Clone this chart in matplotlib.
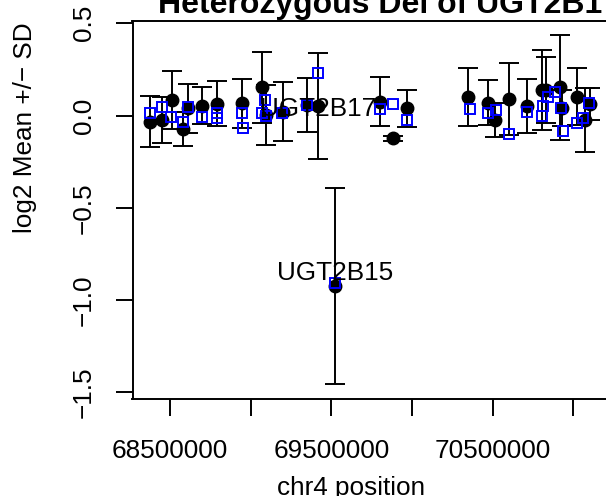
import matplotlib
matplotlib.use("Agg")
import matplotlib.pyplot as plt
import numpy as np

plt.rcParams['font.family'] = ['Liberation Sans', 'DejaVu Sans']

# probe means (black) with SD
pos = [68376000, 68452300, 68510500, 68578700, 68613400, 68696500, 68793200,
       68944400, 69068400, 69095000, 69202200, 69347300, 69419200, 69522700,
       69801600, 69884000, 69967100, 70348900, 70472800, 70514400, 70603000,
       70710800, 70803800, 70830400, 70917200, 70927700, 71020700, 71072100,
       71103100]
mean = [-0.033, -0.024, 0.084, -0.073, 0.039, 0.052, 0.063,
        0.066, 0.153, 0.003, 0.021, 0.057, 0.052, -0.924,
        0.075, -0.123, 0.039, 0.099, 0.070, -0.024, 0.090,
        0.052, 0.138, 0.138, 0.153, 0.039, 0.102, -0.024,
        0.063]
sd = [0.138, 0.126, 0.157, 0.090, 0.134, 0.100, 0.122,
      0.133, 0.193, 0.165, 0.160, 0.146, 0.289, 0.531,
      0.133, 0.014, 0.099, 0.157, 0.122, 0.090, 0.193,
      0.146, 0.218, 0.180, 0.285, 0.098, 0.155, 0.175,
      0.085]

# second series (blue squares)
pos2 = [68376000, 68452300, 68504300, 68578700, 68613400, 68696500, 68793200,
        68793200, 68944400, 68950600, 69088800, 69068400, 69095000, 69192300,
        69347300, 69415400, 69522700, 69801600, 69884000, 69967100, 70359400,
        70472800, 70518700, 70603000, 70710800, 70803800, 70813700, 70844700,
        70886200, 70921500, 70937600, 71020700, 71061600, 71098800]
val2 = [0.015, 0.045, -0.009, -0.033, 0.045, -0.009, 0.012,
        -0.015, 0.015, -0.069, 0.084, 0.015, -0.002, 0.012,
        0.057, 0.232, -0.909, 0.034, 0.063, -0.024, 0.034,
        0.012, 0.030, -0.102, 0.018, -0.002, 0.052, 0.099,
        0.129, 0.039, -0.082, -0.039, -0.015, 0.070]

genes = ["UGT2B17", "UGT2B15"]
gene_x = [69419200, 69522700]
gene_y = [0.00, -0.890]

xticks = [68500000, 69000000, 69500000, 70000000, 70500000, 71000000, 71500000]
xlabels = ["68500000", "", "69500000", "", "70500000", "", ""]
yticks = [-1.5, -1.0, -0.5, 0.0, 0.5]
ylabels = ["\u22121.5", "\u22121.0", "\u22120.5", "0.0", "0.5"]

W, H = 606, 496
fig = plt.figure(figsize=(W / 100, H / 100), dpi=100)
left, right, top, bottom = 132.5, 656, 20.7, 399.3
ax = fig.add_axes([left / W, 1 - bottom / H, (right - left) / W, (bottom - top) / H])

lw = 1.4
ax.errorbar(pos, mean, yerr=sd, fmt='o', color='black', ms=9, ecolor='black',
            elinewidth=lw, capsize=7.2, capthick=lw, zorder=2)
ax.plot(pos2, val2, 's', mfc='none', mec='blue', ms=7.6, mew=1.4, zorder=3)

fs = 18.8
for g, gx, gy in zip(genes, gene_x, gene_y):
    ax.text(gx, gy, g, ha='center', va='baseline', fontsize=fs, zorder=4)

ax.set_xlim(68267600, 71512200)
ax.set_ylim(-1.538, 0.514)
ax.set_xticks(xticks)
ax.set_xticklabels(xlabels)
ax.set_yticks(yticks)
ax.set_yticklabels(ylabels, rotation=90, va='center')
ax.tick_params(length=11.9, width=lw, labelsize=fs, color='black')
ax.tick_params(axis='x', pad=16.5)
ax.tick_params(axis='y', pad=14.4)
for s in ax.spines.values():
    s.set_linewidth(lw)

fig.text(158 / W, 1 - 13.5 / H, "Heterozygous Del of UGT2B17", ha='left',
         va='baseline', fontsize=23, fontweight='bold')
fig.text(25 / W, 1 - 127.5 / H, "log2 Mean +/\u2212 SD", rotation=90,
         ha='center', va='center', fontsize=fs)
fig.text(351 / W, 1 - 495 / H, "chr4 position", ha='center', va='baseline',
         fontsize=fs)

fig.savefig("out.png", dpi=100)
